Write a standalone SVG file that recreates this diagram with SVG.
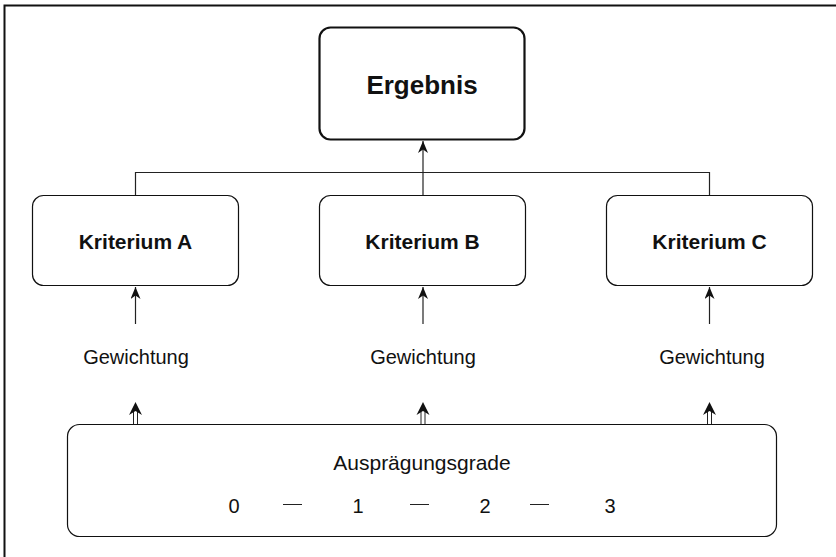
<svg xmlns="http://www.w3.org/2000/svg" width="836" height="557" viewBox="0 0 836 557">
  <style>
    .box { fill: #fff; stroke: #111; stroke-width: 1.2; }
    .main { fill: #fff; stroke: #111; stroke-width: 2.2; }
    .line { fill: none; stroke: #222; stroke-width: 1.2; }
    .dbl { fill: none; stroke: #222; stroke-width: 1; }
    .t { font-family: "Liberation Sans", Arial, sans-serif; fill: #111; text-anchor: middle; }
    .b { font-weight: bold; }
  </style>
  <defs>
    <marker id="arr" viewBox="0 0 12 10" refX="12" refY="5" markerWidth="12" markerHeight="10" markerUnits="userSpaceOnUse" orient="auto">
      <path d="M0,0 L12,5 L0,10 L3.5,5 Z" fill="#111"/>
    </marker>
  </defs>
  <rect x="0" y="0" width="836" height="557" fill="#fff"/>
  <!-- outer frame, open to the right and bottom -->
  <path d="M4.5,560 L4.5,5.5 L840,5.5" fill="none" stroke="#111" stroke-width="2"/>

  <g id="connectors">
    <!-- tree to the result -->
    <path class="line" d="M135.5,195 V172.5 H709.5 V195"/>
    <line class="line" x1="423" y1="195" x2="423" y2="141" marker-end="url(#arr)"/>
    <!-- weighting arrows into criteria -->
    <line class="line" x1="135.5" y1="324" x2="135.5" y2="287" marker-end="url(#arr)"/>
    <line class="line" x1="423" y1="324" x2="423" y2="287" marker-end="url(#arr)"/>
    <line class="line" x1="709.5" y1="324" x2="709.5" y2="287" marker-end="url(#arr)"/>
    <!-- double arrows from the scale -->
    <g id="dbl-a">
      <path class="dbl" d="M133.5,424 V412 M137.5,424 V412"/>
      <path d="M129,415 L135.5,402 L142,415 L135.5,411 Z" fill="#111"/>
    </g>
    <g id="dbl-b">
      <path class="dbl" d="M421,424 V412 M425,424 V412"/>
      <path d="M416.5,415 L423,402 L429.5,415 L423,411 Z" fill="#111"/>
    </g>
    <g id="dbl-c">
      <path class="dbl" d="M707.5,424 V412 M711.5,424 V412"/>
      <path d="M703,415 L709.5,402 L716,415 L709.5,411 Z" fill="#111"/>
    </g>
  </g>

  <g id="ergebnis">
    <rect class="main" x="319.5" y="27.5" width="205" height="112" rx="11"/>
    <text class="t b" x="422" y="94" font-size="26">Ergebnis</text>
  </g>

  <g id="kriterium-a">
    <rect class="box" x="32.5" y="195.5" width="206" height="90" rx="11"/>
    <text class="t b" x="135.5" y="249" font-size="21">Kriterium A</text>
  </g>
  <g id="kriterium-b">
    <rect class="box" x="319.5" y="195.5" width="206" height="90" rx="11"/>
    <text class="t b" x="422.5" y="249" font-size="21">Kriterium B</text>
  </g>
  <g id="kriterium-c">
    <rect class="box" x="606.5" y="195.5" width="206" height="90" rx="11"/>
    <text class="t b" x="709.5" y="249" font-size="21">Kriterium C</text>
  </g>

  <g id="gewichtung-a"><text class="t" x="136" y="364" font-size="20">Gewichtung</text></g>
  <g id="gewichtung-b"><text class="t" x="423" y="364" font-size="20">Gewichtung</text></g>
  <g id="gewichtung-c"><text class="t" x="712" y="364" font-size="20">Gewichtung</text></g>

  <g id="auspraegungsgrade">
    <rect class="box" x="67.5" y="424.5" width="709" height="112" rx="12"/>
    <text class="t" x="422" y="470" font-size="21">Ausprägungsgrade</text>
    <text class="t" x="234" y="513" font-size="20">0</text>
    <text class="t" x="358" y="513" font-size="20">1</text>
    <text class="t" x="485" y="513" font-size="20">2</text>
    <text class="t" x="610" y="513" font-size="20">3</text>
    <path class="line" d="M283,504.5 H302 M410,504.5 H429 M530,504.5 H549"/>
  </g>
</svg>
